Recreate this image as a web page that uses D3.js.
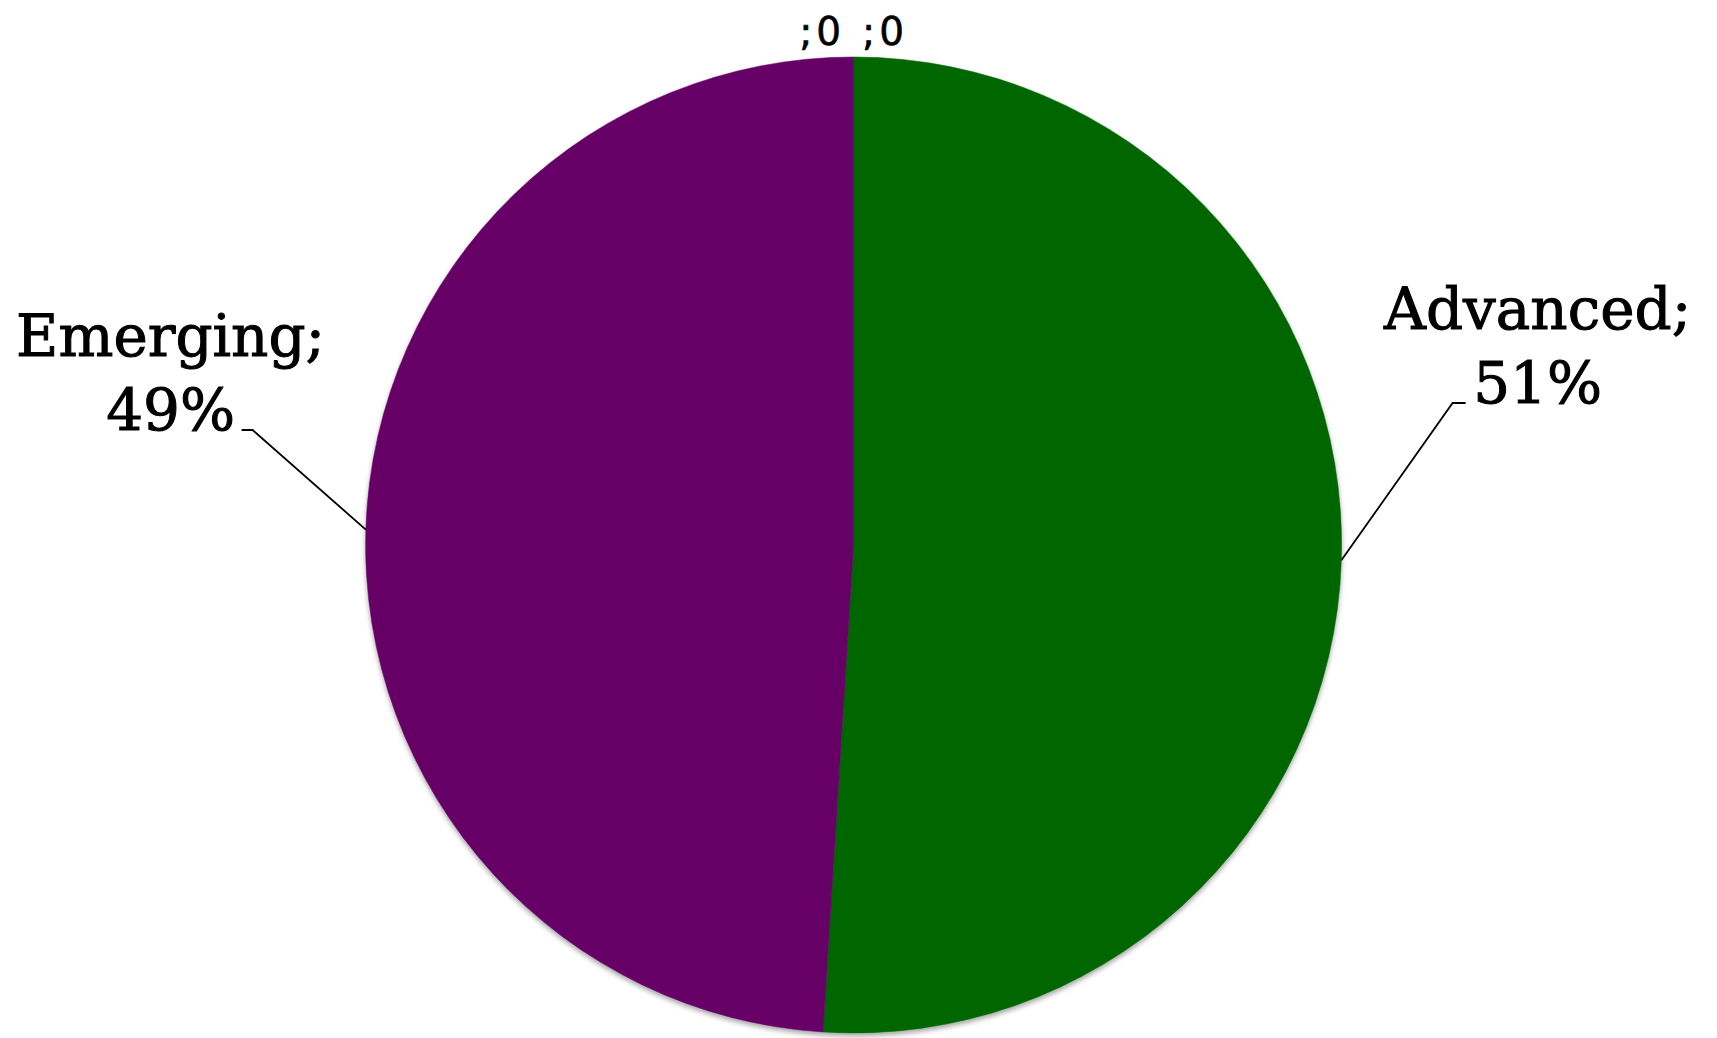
<!DOCTYPE html>
<html>
<head>
<meta charset="utf-8">
<script src="https://cdn.jsdelivr.net/npm/d3@7"></script>
<style>
  html, body { margin: 0; padding: 0; background: #fff; }
  svg { display: block; }
</style>
</head>
<body>
<svg id="chart" width="1717" height="1038"></svg>
<script>
// Share of the total, by economy group
const categories = ["Advanced", "Emerging", "", ""];
const values = [51, 49, 0, 0];
const valueLabels = ["51%", "49%", "0", "0"];
const colors = ["#006600", "#660066", "#808080", "#808080"];

const W = 1717, H = 1038;
const cx = 853.6, cy = 545, R = 488;

const svg = d3.select("#chart");

const defs = svg.append("defs");
const shadow = defs.append("filter").attr("id", "pieShadow")
  .attr("x", "-10%").attr("y", "-10%").attr("width", "120%").attr("height", "120%");
shadow.append("feDropShadow")
  .attr("dx", 0).attr("dy", 3).attr("stdDeviation", 2.5)
  .attr("flood-color", "#000").attr("flood-opacity", 0.35);

const data = categories.map((c, i) => ({ name: c, value: values[i], label: valueLabels[i], color: colors[i] }));

const pie = d3.pie().sort(null).value(d => d.value);
const arcs = pie(data);
const arc = d3.arc().innerRadius(0).outerRadius(R);

const g = svg.append("g").attr("transform", `translate(${cx},${cy})`);

g.append("g").attr("filter", "url(#pieShadow)")
  .selectAll("path")
  .data(arcs.filter(a => a.data.value > 0))
  .join("path")
  .attr("d", arc)
  .attr("fill", a => a.data.color)
  .attr("stroke", a => a.data.color)
  .attr("stroke-width", 0.5);

// label placement for the two visible slices (offsets from the pie centre)
const labelLayout = {
  "Advanced": { x: 684, y: -142, elbowX: 599, tickX: 612, anchorY: -142 },
  "Emerging": { x: -683, y: -115, elbowX: -601, tickX: -612, anchorY: -115 }
};
const lineH = 74;

arcs.filter(a => a.data.value > 0).forEach(a => {
  const L = labelLayout[a.data.name];
  const mid = (a.startAngle + a.endAngle) / 2;
  const px = R * Math.sin(mid), py = -R * Math.cos(mid);
  g.append("path")
    .attr("d", d3.line()([[px, py], [L.elbowX, L.anchorY], [L.tickX, L.anchorY]]))
    .attr("fill", "none").attr("stroke", "#000").attr("stroke-width", 1.8);
  const t = g.append("text")
    .attr("text-anchor", "middle")
    .attr("font-family", "'DejaVu Serif', serif")
    .attr("font-size", 58)
    .attr("fill", "#000")
    .attr("stroke", "#000")
    .attr("stroke-width", 1);
  t.append("tspan").attr("x", L.x).attr("y", L.y - lineH).text(a.data.name + ";");
  t.append("tspan").attr("x", L.x).attr("y", L.y).text(a.data.label);
});

// zero-valued slices sit at the top of the pie; their labels are spread side by side
const zeros = arcs.filter(a => a.data.value === 0);
zeros.forEach((a, i) => {
  const mid = (a.startAngle + a.endAngle) / 2;
  const bx = R * Math.sin(mid), by = -R * Math.cos(mid);
  g.append("text")
    .attr("x", bx + (i - (zeros.length - 1) / 2) * 63)
    .attr("y", by - 12)
    .attr("text-anchor", "middle")
    .attr("font-family", "'DejaVu Sans', sans-serif")
    .attr("font-size", 39)
    .attr("letter-spacing", 4)
    .attr("fill", "#000")
    .attr("stroke", "#000")
    .attr("stroke-width", 0.6)
    .text(a.data.name + ";" + a.data.label);
});
</script>
</body>
</html>
